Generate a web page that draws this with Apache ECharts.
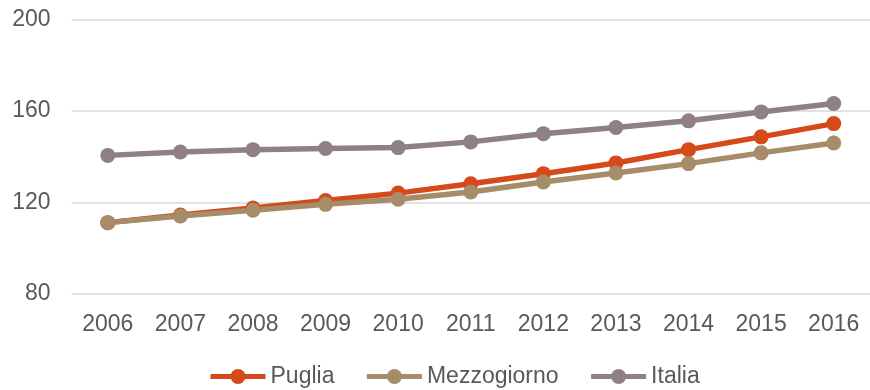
<!DOCTYPE html>
<html>
<head>
<meta charset="utf-8">
<script src="https://cdn.jsdelivr.net/npm/echarts@6/dist/echarts.min.js"></script>
<style>
  html, body { margin: 0; padding: 0; background: #ffffff; }
  #chart { width: 870px; height: 390px; }
</style>
</head>
<body>
<div id="chart"></div>
<script>
// Years on the category axis
const years = ['2006', '2007', '2008', '2009', '2010', '2011', '2012', '2013', '2014', '2015', '2016'];

// Index values per area
const puglia = [111.2, 114.5, 117.6, 120.9, 124.1, 128.2, 132.6, 137.3, 143.1, 148.7, 154.5];
const mezzogiorno = [111.2, 114.1, 116.6, 119.2, 121.4, 124.6, 129.0, 132.9, 137.0, 141.7, 146.0];
const italia = [140.6, 142.1, 143.1, 143.6, 144.0, 146.5, 150.1, 152.8, 155.7, 159.6, 163.3];

// Value axis ticks
const yMin = 80, yMax = 200, yStep = 40;

const textColor = '#595959';
const fontFamily = '"Liberation Sans", Arial, sans-serif';

function lineSeries(name, data, color) {
  return {
    name: name,
    type: 'line',
    data: data,
    symbol: 'circle',
    symbolSize: 15,
    showSymbol: true,
    lineStyle: { color: color, width: 5.5 },
    itemStyle: { color: color },
    emphasis: { disabled: true },
    animation: false
  };
}

const chart = echarts.init(document.getElementById('chart'), null, { renderer: 'canvas' });
chart.setOption({
  backgroundColor: '#ffffff',
  textStyle: { fontFamily: fontFamily },
  grid: { left: 71.5, top: 19.5, width: 803, height: 274.5, containLabel: false },
  xAxis: {
    type: 'category',
    data: years,
    boundaryGap: true,
    axisLine: { show: false },
    axisTick: { show: false },
    axisLabel: { color: textColor, fontSize: 23, fontFamily: fontFamily, margin: 19 }
  },
  yAxis: {
    type: 'value',
    min: yMin,
    max: yMax,
    interval: yStep,
    axisLine: { show: false },
    axisTick: { show: false },
    splitLine: { lineStyle: { color: '#d9d9d9', width: 1.5 } },
    axisLabel: { color: textColor, fontSize: 23, fontFamily: fontFamily, margin: 21 }
  },
  legend: {
    left: 203,
    top: 360,
    padding: 5,
    itemWidth: 55,
    itemHeight: 19,
    itemGap: 30,
    lineStyle: { width: 5 },
    textStyle: { color: textColor, fontSize: 23, fontFamily: fontFamily },
    data: ['Puglia', 'Mezzogiorno', 'Italia']
  },
  series: [
    lineSeries('Puglia', puglia, '#d5491a'),
    lineSeries('Mezzogiorno', mezzogiorno, '#a68c69'),
    lineSeries('Italia', italia, '#8e8083')
  ]
});
</script>
</body>
</html>
